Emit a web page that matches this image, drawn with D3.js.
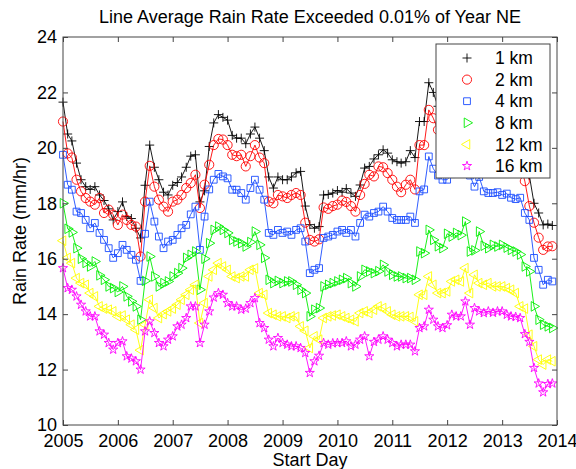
<!DOCTYPE html>
<html>
<head>
<meta charset="utf-8">
<script src="https://cdn.jsdelivr.net/npm/d3@7"></script>
<style>
body { margin: 0; background: #fff; }
text { font-family: "Liberation Sans", Arial, sans-serif; fill: #000; }
</style>
</head>
<body>
<div id="chart"></div>
<script>
// Rain rate (mm/hr) exceeded 0.01% of the year, one value per monthly start day 2005-2013
var km1 = [
    21.65, 20.5, 20.25, 19.45, 18.85, 18.6, 18.5, 18.6, 18.3, 18.1, 17.8, 17.4,
    17.7, 18.05, 17.52, 17.45, 17.1, 16.75, 18.65, 20.1, 19.3, 18.85, 18.4, 18.3,
    18.65, 18.75, 18.95, 19.3, 19.7, 19.75, 18.05, 18.45, 20.05, 20.9, 21.2, 21.1,
    21.0, 20.45, 20.35, 20.35, 20.15, 20.5, 20.75, 20.35, 19.9, 18.95, 18.55, 18.95,
    18.85, 18.85, 18.95, 19.1, 19.15, 17.9, 17.23, 17.1, 17.16, 18.3, 18.32, 18.37,
    18.46, 18.4, 18.53, 18.37, 18.25, 18.66, 19.27, 19.33, 19.6, 19.75, 19.93, 19.81,
    19.57, 19.5, 19.45, 19.5, 19.9, 19.65, 20.95, 20.95, 22.35, 22.0, 21.5, 21.2,
    20.9, 21.0, 21.2, 21.1, 21.5, 20.8, 20.6, 21.0, 20.6, 20.5, 20.5, 20.45,
    20.4, 20.35, 20.3, 20.2, 20.3, 19.6, 19.0, 18.0, 17.65, 17.22, 17.25, 17.2
];
var km2 = [
    20.95, 19.8, 19.65, 18.85, 18.43, 18.19, 18.06, 17.95, 18.19, 17.65, 17.77, 17.59,
    17.22, 17.59, 17.4, 17.22, 17.16, 16.08, 18.06, 19.35, 18.6, 18.13, 17.88, 17.7,
    18.06, 18.13, 18.3, 18.55, 18.73, 19.03, 17.83, 18.67, 19.39, 20.1, 20.32, 20.3,
    20.1, 19.75, 19.7, 19.75, 19.33, 19.7, 20.1, 19.65, 19.45, 18.06, 18.0, 18.3,
    18.25, 18.19, 18.3, 18.37, 18.3, 17.3, 16.68, 16.62, 16.7, 17.85, 17.8, 17.9,
    17.95, 18.1, 18.05, 17.9, 17.7, 18.3, 18.7, 19.03, 18.97, 19.33, 19.3, 19.09,
    18.85, 18.6, 18.4, 18.67, 18.85, 18.5, 20.1, 20.1, 21.37, 21.07, 20.65, 20.3,
    20.0, 20.1, 20.3, 20.2, 20.5, 19.9, 19.7, 20.1, 19.75, 19.6, 19.6, 19.55,
    19.5, 19.45, 19.4, 19.3, 19.4, 18.8, 17.9, 17.3, 16.76, 16.32, 16.44, 16.45
];
var km4 = [
    19.75, 18.67, 18.49, 17.7, 17.65, 17.4, 17.1, 17.29, 16.93, 16.68, 16.38, 16.03,
    16.2, 16.5, 16.32, 16.14, 15.96, 15.2, 16.9, 18.06, 17.34, 16.8, 16.38, 16.62,
    16.68, 16.86, 17.1, 17.22, 17.6, 17.88, 16.32, 17.52, 18.5, 18.85, 19.06, 18.97,
    18.9, 18.49, 18.49, 18.37, 18.13, 18.55, 18.85, 18.49, 18.13, 16.93, 16.86, 17.04,
    16.93, 16.98, 16.86, 17.04, 17.1, 16.62, 15.48, 15.6, 15.66, 16.75, 16.8, 16.86,
    16.98, 17.04, 16.93, 17.04, 16.8, 17.29, 17.59, 17.52, 17.65, 17.7, 17.88, 17.7,
    17.47, 17.4, 17.4, 17.4, 17.52, 17.29, 18.43, 18.5, 19.69, 19.25, 19.0, 18.85,
    18.85, 19.05, 19.1, 19.3, 19.5, 19.0, 18.6, 18.95, 18.43, 18.37, 18.37, 18.4,
    18.3, 18.35, 18.2, 18.15, 18.2, 17.65, 17.4, 16.03, 15.6, 15.06, 15.24, 15.18
];
var km8 = [
    18.0, 17.08, 16.95, 16.38, 16.0, 15.85, 15.72, 15.9, 15.4, 15.24, 15.0, 14.94,
    14.8, 15.0, 14.64, 14.46, 14.28, 13.8, 15.2, 16.08, 15.36, 15.0, 15.12, 15.18,
    15.36, 15.48, 15.66, 16.03, 16.14, 16.26, 14.88, 16.0, 16.56, 17.04, 17.16, 17.04,
    16.93, 16.68, 16.62, 16.56, 16.44, 16.6, 16.98, 16.5, 16.03, 15.24, 15.12, 15.2,
    15.12, 15.18, 15.18, 15.06, 14.88, 14.76, 13.92, 14.16, 14.22, 15.0, 15.06, 15.12,
    15.18, 15.24, 15.3, 15.12, 15.0, 15.36, 15.6, 15.54, 15.48, 15.55, 15.78, 15.54,
    15.42, 15.36, 15.36, 15.3, 15.3, 15.24, 16.26, 16.2, 17.04, 16.68, 16.45, 16.38,
    16.9, 16.8, 16.93, 16.85, 17.34, 16.26, 16.3, 16.98, 16.47, 16.38, 16.5, 16.44,
    16.5, 16.4, 16.32, 16.26, 16.15, 15.72, 15.54, 14.28, 13.8, 13.62, 13.56, 13.5
];
var km12 = [
    16.65, 16.03, 15.84, 15.3, 15.12, 15.06, 14.76, 14.64, 14.28, 14.2, 14.16, 14.1,
    13.92, 13.95, 13.8, 13.62, 13.44, 12.7, 13.62, 14.52, 14.22, 13.86, 14.0, 14.1,
    14.2, 14.34, 14.52, 14.7, 14.88, 15.06, 13.68, 14.4, 15.36, 15.6, 15.84, 15.72,
    15.6, 15.36, 15.3, 15.36, 15.36, 15.6, 15.65, 14.76, 14.7, 14.04, 13.98, 13.92,
    13.92, 13.86, 13.92, 13.9, 13.56, 13.4, 12.78, 13.2, 13.08, 13.86, 13.92, 13.95,
    13.98, 13.92, 13.86, 13.8, 13.74, 14.04, 14.1, 14.04, 14.16, 14.28, 14.22, 14.1,
    13.98, 13.92, 13.92, 13.92, 13.9, 13.74, 14.7, 14.7, 15.36, 15.06, 14.76, 14.76,
    14.82, 15.18, 15.24, 15.18, 15.66, 14.76, 15.42, 15.12, 15.06, 15.12, 15.0, 15.0,
    15.0, 14.94, 14.88, 14.76, 14.28, 14.2, 13.26, 12.84, 12.36, 12.18, 12.36, 12.3
];
var km16 = [
    15.66, 14.94, 14.88, 14.64, 14.34, 14.1, 13.92, 13.92, 13.38, 13.26, 12.96, 12.72,
    12.96, 13.02, 12.48, 12.4, 12.3, 12.0, 13.38, 13.74, 13.32, 12.96, 12.84, 13.08,
    13.2, 13.56, 13.62, 13.86, 14.28, 14.28, 12.96, 13.62, 14.1, 14.6, 14.76, 14.7,
    14.4, 14.28, 14.28, 14.16, 14.2, 14.4, 14.58, 13.68, 13.5, 13.08, 12.84, 13.14,
    12.96, 12.9, 12.84, 12.84, 12.78, 12.6, 11.88, 12.3, 12.5, 12.96, 12.9, 12.95,
    12.96, 12.96, 13.02, 12.84, 12.9, 13.08, 13.2, 12.48, 13.0, 13.08, 13.2, 13.08,
    12.96, 12.84, 12.9, 12.9, 12.9, 12.66, 13.5, 13.56, 14.16, 13.8, 13.56, 13.5,
    13.6, 13.98, 13.92, 13.92, 14.46, 13.62, 14.22, 14.1, 14.04, 14.1, 14.05, 14.1,
    14.1, 13.98, 13.92, 13.9, 13.86, 13.28, 13.0, 12.06, 11.5, 11.18, 11.48, 11.5
];

var seriesNames = ["1 km", "2 km", "4 km", "8 km", "12 km", "16 km"];
var xTickYears = [2005, 2006, 2007, 2008, 2009, 2010, 2011, 2012, 2013, 2014];
var yTickValues = [10, 12, 14, 16, 18, 20, 22, 24];

// One start day per month, Jan 2005 .. Dec 2013
var startDays = d3.timeMonth.range(new Date(2005, 0, 1), new Date(2014, 0, 1));

var allSeries = [km1, km2, km4, km8, km12, km16];
var colors = ["#000000", "#ff0000", "#1a4cff", "#00ee00", "#ffff00", "#ff00ff"];
var markers = ["plus", "circle", "square", "right", "left", "star"];

// Set up SVG dimensions and margins
var margin = { top: 37, right: 19, bottom: 44, left: 63 };
var width = 576 - margin.left - margin.right;
var height = 469 - margin.top - margin.bottom;

var svg = d3.select("#chart").append("svg")
    .attr("width", 576)
    .attr("height", 469);

var g = svg.append("g")
    .attr("transform", "translate(" + margin.left + "," + margin.top + ")");

var x = d3.scaleTime()
    .domain([new Date(2005, 0, 1), new Date(2014, 0, 1)])
    .range([0, width]);

var y = d3.scaleLinear()
    .domain([10, 24])
    .range([height, 0]);

function markerPath(kind) {
    if (kind === "plus") return "M-4.5,0H4.5M0,-4.5V4.5";
    if (kind === "circle") return d3.symbol(d3.symbolCircle, 66)();
    if (kind === "square") return d3.symbol(d3.symbolSquare, 46)();
    if (kind === "right" || kind === "left") return d3.symbol(d3.symbolTriangle, 40)();
    return d3.symbol(d3.symbolStar, 26)();
}
function markerRotate(kind) {
    if (kind === "right") return " rotate(90)";
    if (kind === "left") return " rotate(-90)";
    return "";
}

var line = d3.line()
    .x(d => x(d.date))
    .y(d => y(d.value));

// Lines and markers for each altitude
allSeries.forEach(function(values, k) {
    var pts = values.map((v, i) => ({ date: startDays[i], value: v }));
    var sg = g.append("g");

    sg.append("path")
        .datum(pts)
        .attr("d", line)
        .attr("fill", "none")
        .attr("stroke", colors[k])
        .attr("stroke-width", 0.9);

    sg.selectAll("path.mk")
        .data(pts)
        .enter()
        .append("path")
        .attr("class", "mk")
        .attr("d", markerPath(markers[k]))
        .attr("transform", d => "translate(" + x(d.date) + "," + y(d.value) + ")" + markerRotate(markers[k]))
        .attr("fill", "none")
        .attr("stroke", colors[k])
        .attr("stroke-width", 0.9);
});

// Axes with inward ticks
var yearDates = xTickYears.map(yr => new Date(yr, 0, 1));

g.append("g")
    .attr("transform", "translate(0," + height + ")")
    .call(d3.axisBottom(x).tickValues(yearDates).tickFormat(d3.timeFormat("%Y"))
        .tickSizeInner(-5).tickSizeOuter(0).tickPadding(9));
g.append("g")
    .call(d3.axisTop(x).tickValues(yearDates).tickFormat("")
        .tickSizeInner(-5).tickSizeOuter(0));
g.append("g")
    .call(d3.axisLeft(y).tickValues(yTickValues)
        .tickSizeInner(-5).tickSizeOuter(0).tickPadding(6));
g.append("g")
    .attr("transform", "translate(" + width + ",0)")
    .call(d3.axisRight(y).tickValues(yTickValues).tickFormat("")
        .tickSizeInner(-5).tickSizeOuter(0));

g.selectAll(".domain").remove();
g.selectAll(".tick line").attr("stroke", "#444");
g.selectAll(".tick text").style("font-size", "18px").attr("fill", "#000");

// Plot box
g.append("rect")
    .attr("width", width)
    .attr("height", height)
    .attr("fill", "none")
    .attr("stroke", "#444")
    .attr("stroke-width", 1);

// Title
svg.append("text")
    .attr("x", margin.left + width / 2)
    .attr("y", 23)
    .attr("text-anchor", "middle")
    .style("font-size", "18px")
    .text("Line Average Rain Rate Exceeded 0.01% of Year NE");

// X label
svg.append("text")
    .attr("x", margin.left + width / 2)
    .attr("y", 466)
    .attr("text-anchor", "middle")
    .style("font-size", "18px")
    .text("Start Day");

// Y label
svg.append("text")
    .attr("transform", "rotate(-90)")
    .attr("x", -(margin.top + height / 2))
    .attr("y", 26)
    .attr("text-anchor", "middle")
    .style("font-size", "18px")
    .text("Rain Rate (mm/hr)");

// Legend
var legend = svg.append("g")
    .attr("transform", "translate(436,44)");

legend.append("rect")
    .attr("width", 114)
    .attr("height", 134)
    .attr("fill", "#fff")
    .attr("stroke", "#444")
    .attr("stroke-width", 1);

seriesNames.forEach(function(name, k) {
    var cy = 14 + k * 21.6;
    legend.append("path")
        .attr("d", markerPath(markers[k]))
        .attr("transform", "translate(31," + cy + ")" + markerRotate(markers[k]))
        .attr("fill", "none")
        .attr("stroke", colors[k])
        .attr("stroke-width", 0.9);
    legend.append("text")
        .attr("x", 59)
        .attr("y", cy)
        .attr("dy", "0.35em")
        .style("font-size", "17.5px")
        .text(name);
});
</script>
</body>
</html>
